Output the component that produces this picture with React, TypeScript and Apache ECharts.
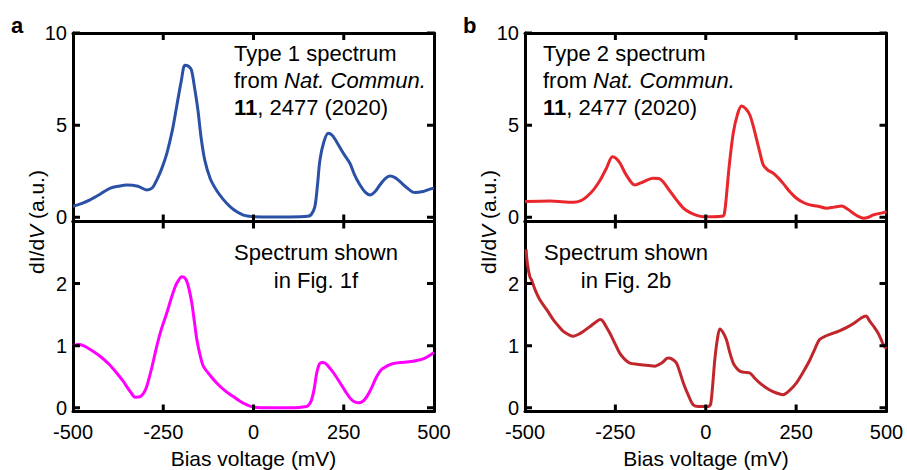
import React, { useEffect, useRef } from "react";
import * as echarts from "echarts";

// Panel a, top: Type 1 spectrum (Nat. Commun. 11, 2477)
const type1X = [-500, -475, -453, -425, -398, -370, -351, -320, -296, -280, -268, -255, -240, -225, -213, -200, -190, -180, -172, -163, -154, -145, -135, -120, -103, -85, -65, -45, -28, -10, 0, 50, 100, 150, 160, 170, 177, 184, 195, 207, 218, 230, 248, 267, 280, 295, 310, 323, 337, 350, 365, 378, 392, 406, 425, 447, 470, 485, 500];
const type1Y = [0.6, 0.75, 0.94, 1.25, 1.57, 1.7, 1.75, 1.68, 1.48, 1.6, 2.02, 2.6, 3.47, 4.7, 6.0, 7.4, 8.25, 8.2, 8.0, 7.0, 5.82, 4.3, 3.1, 2.1, 1.48, 1.0, 0.58, 0.28, 0.12, 0.05, 0.03, 0.02, 0.02, 0.05, 0.15, 0.58, 1.7, 3.1, 4.1, 4.56, 4.45, 4.1, 3.5, 2.93, 2.3, 1.75, 1.35, 1.21, 1.4, 1.75, 2.1, 2.24, 2.15, 1.93, 1.6, 1.34, 1.4, 1.5, 1.58];

// Panel a, bottom: spectrum shown in Fig. 1f
const fig1fX = [-500, -485, -471, -450, -425, -400, -379, -360, -351, -340, -328, -314, -305, -296, -282, -268, -255, -240, -228, -217, -207, -199, -192, -185, -178, -171, -164, -157, -148, -139, -120, -102, -80, -56, -30, 0, 50, 100, 147, 155, 161, 168, 175, 182, 189, 198, 207, 222, 240, 255, 267, 278, 290, 302, 314, 327, 341, 355, 369, 385, 406, 430, 452, 475, 500];
const fig1fY = [1.0, 1.02, 1.0, 0.93, 0.83, 0.7, 0.56, 0.42, 0.34, 0.25, 0.17, 0.18, 0.23, 0.34, 0.64, 0.99, 1.27, 1.53, 1.76, 1.95, 2.06, 2.11, 2.1, 2.04, 1.9, 1.69, 1.4, 1.1, 0.85, 0.67, 0.52, 0.4, 0.28, 0.18, 0.08, 0.01, 0.0, 0.0, 0.02, 0.06, 0.13, 0.3, 0.56, 0.7, 0.73, 0.72, 0.67, 0.56, 0.4, 0.26, 0.16, 0.1, 0.08, 0.1, 0.18, 0.32, 0.5, 0.62, 0.67, 0.71, 0.73, 0.74, 0.76, 0.8, 0.89];

// Panel b, top: Type 2 spectrum
const type2X = [-500, -431, -366, -345, -329, -310, -292, -275, -258, -248, -237, -220, -196, -175, -146, -130, -118, -100, -81, -62, -43, -25, -7, 20, 48, 53, 57, 65, 76, 88, 99, 110, 122, 132, 141, 150, 159, 172, 187, 200, 214, 232, 251, 270, 288, 310, 334, 355, 376, 392, 408, 422, 436, 450, 463, 491, 500];
const type2Y = [0.85, 0.88, 0.81, 0.9, 1.12, 1.5, 2.02, 2.65, 3.29, 3.2, 2.93, 2.3, 1.75, 1.9, 2.12, 2.1, 1.93, 1.45, 0.94, 0.5, 0.25, 0.1, 0.03, 0.03, 0.07, 0.4, 1.12, 2.8, 4.56, 5.6, 6.04, 5.9, 5.55, 4.9, 4.2, 3.5, 2.84, 2.55, 2.39, 2.15, 1.84, 1.4, 1.03, 0.8, 0.67, 0.6, 0.49, 0.55, 0.61, 0.45, 0.22, 0.05, -0.05, 0.0, 0.12, 0.25, 0.28];

// Panel b, bottom: spectrum shown in Fig. 2b
const fig2bX = [-497, -495, -491, -486, -482, -472, -459, -440, -422, -408, -394, -380, -367, -353, -339, -320, -302, -292, -284, -275, -265, -250, -238, -224, -210, -190, -173, -157, -141, -122, -104, -92, -81, -72, -62, -48, -35, -20, 2, 10, 14, 19, 25, 32, 39, 47, 57, 66, 76, 85, 94, 108, 122, 135, 149, 168, 186, 200, 214, 232, 251, 270, 288, 302, 315, 333, 352, 370, 389, 410, 431, 443, 454, 466, 477, 485, 491, 500];
const fig2bY = [2.55, 2.4, 2.23, 2.1, 2.06, 1.9, 1.74, 1.58, 1.42, 1.32, 1.23, 1.18, 1.15, 1.18, 1.23, 1.31, 1.39, 1.42, 1.39, 1.3, 1.2, 1.02, 0.88, 0.78, 0.72, 0.7, 0.69, 0.68, 0.67, 0.72, 0.8, 0.78, 0.72, 0.58, 0.4, 0.2, 0.05, 0.02, 0.02, 0.03, 0.07, 0.35, 0.77, 1.1, 1.27, 1.22, 1.1, 0.9, 0.72, 0.64, 0.59, 0.57, 0.56, 0.48, 0.4, 0.32, 0.26, 0.23, 0.21, 0.28, 0.4, 0.58, 0.77, 0.95, 1.1, 1.16, 1.2, 1.24, 1.29, 1.36, 1.45, 1.48, 1.39, 1.3, 1.2, 1.1, 1.02, 0.95];

const xTickValues = [-250, 0, 250];
const xInterval = 250; // x labels: -500, -250, 0, 250, 500
const yTopValues = [0, 5, 10];
const yBottomValues = [0, 1, 2];

const FONT = "'Liberation Sans', Arial, Helvetica, sans-serif";

const zip = (xs: number[], ys: number[]) => xs.map((x, i) => [x, ys[i]]);

export default function App() {
  const ref = useRef<HTMLDivElement>(null);
  useEffect(() => {
    if (!ref.current) return;
    const chart = echarts.init(ref.current, null, { renderer: "svg" });

    const gridRects = [
      { left: 73, top: 33, width: 361, height: 188.5 },
      { left: 73, top: 221.5, width: 361, height: 190 },
      { left: 525, top: 33, width: 361.5, height: 188.5 },
      { left: 525, top: 221.5, width: 361.5, height: 190 },
    ];
    const grids = gridRects.map((g) => ({ ...g, show: false }));
    const yRange = (g: number) => (g % 2 === 1 ? [-0.06, 3] : [-0.23, 10]);

    const mkLine = () => ({ show: true, onZero: false, lineStyle: { color: "#000", width: 3 } });
    const xAxes: any[] = [];
    const yAxes: any[] = [];
    for (let g = 0; g < 4; g++) {
      const bottom = g % 2 === 1;
      xAxes.push({
        type: "value", gridIndex: g, min: -500, max: 500, interval: xInterval, position: "bottom",
        axisLine: mkLine(), splitLine: { show: false }, axisTick: { show: false },
        axisLabel: bottom
          ? { show: true, fontSize: 20, color: "#000", fontFamily: FONT, margin: 10 }
          : { show: false },
      });
      xAxes.push({
        type: "value", gridIndex: g, min: -500, max: 500, interval: xInterval, position: "top",
        axisLine: mkLine(), splitLine: { show: false }, axisTick: { show: false }, axisLabel: { show: false },
      });
      const [yMin, yMax] = yRange(g);
      const yVals = bottom ? yBottomValues : yTopValues;
      const step = yVals[1] - yVals[0];
      yAxes.push({
        type: "value", gridIndex: g, min: yMin, max: yMax, position: "left",
        splitNumber: bottom ? 3 : 2, minInterval: step, maxInterval: step,
        axisLine: mkLine(), splitLine: { show: false }, axisTick: { show: false },
        axisLabel: {
          show: true, fontSize: 20, color: "#000", fontFamily: FONT, margin: 6,
          formatter: (v: number) => (yVals.indexOf(Math.round(v * 1000) / 1000) >= 0 ? String(Math.round(v)) : ""),
        },
      });
      yAxes.push({
        type: "value", gridIndex: g, min: yMin, max: yMax, position: "right",
        splitNumber: bottom ? 3 : 2, minInterval: step, maxInterval: step,
        axisLine: mkLine(), splitLine: { show: false }, axisTick: { show: false }, axisLabel: { show: false },
      });
    }

    const mk = (data: number[][], g: number, color: string) => ({
      type: "line", data, xAxisIndex: g * 2, yAxisIndex: g * 2, showSymbol: false, smooth: 0.3,
      lineStyle: { color, width: 3 },
    });

    // Inward tick marks on all four sides, drawn as short segments in data space
    // (tick length 7 px converted through each grid's scale).
    const TL = 7;
    const tickSeries = (g: number) => {
      const [yMin, yMax] = yRange(g);
      const r = gridRects[g];
      const dx = (TL * 1000) / r.width;
      const dy = (TL * (yMax - yMin)) / r.height;
      const yVals = g % 2 === 1 ? yBottomValues : yTopValues;
      const data: any[] = [];
      xTickValues.forEach((v) => {
        data.push([v, yMax], [v, yMax - dy], [v, "-"]);
        data.push([v, yMin], [v, yMin + dy], [v, "-"]);
      });
      yVals.forEach((v) => {
        data.push([-500, v], [-500 + dx, v], ["-", v]);
        data.push([500, v], [500 - dx, v], ["-", v]);
      });
      return {
        type: "line", data, xAxisIndex: g * 2, yAxisIndex: g * 2, showSymbol: false, smooth: false,
        connectNulls: false, clip: false, z: 3,
        lineStyle: { color: "#000", width: 3, cap: "butt" },
      };
    };

    const FS = 22;
    const txt = (text: string, x: number, y: number, extra: any = {}) => ({
      type: "text", x, y,
      style: {
        text, fontSize: FS, fontFamily: FONT, fill: "#000", verticalAlign: "middle", align: "left",
        rich: {
          i: { fontStyle: "italic", fontSize: FS, fontFamily: FONT },
          b: { fontWeight: "bold", fontSize: FS, fontFamily: FONT },
        },
        ...extra,
      },
    });

    const yName = (x: number) => ({
      type: "text", x, y: 222, rotation: Math.PI / 2,
      style: {
        text: "dI/d{i|V} (a.u.)", fontSize: 21, fontFamily: FONT, fill: "#000", align: "center", verticalAlign: "middle",
        rich: { i: { fontStyle: "italic", fontSize: 21, fontFamily: FONT } },
      },
    });

    chart.setOption({
      animation: false,
      grid: grids,
      xAxis: xAxes,
      yAxis: yAxes,
      series: [
        mk(zip(type1X, type1Y), 0, "#2a51a6"),
        mk(zip(fig1fX, fig1fY), 1, "#ff00ff"),
        mk(zip(type2X, type2Y), 2, "#e8262b"),
        mk(zip(fig2bX, fig2bY), 3, "#c0272d"),
        tickSeries(0),
        tickSeries(1),
        tickSeries(2),
        tickSeries(3),
      ],
      graphic: [
        txt("a", 11, 25, { fontWeight: "bold", fontSize: 22 }),
        txt("b", 463, 25, { fontWeight: "bold", fontSize: 22 }),
        txt("Type 1 spectrum", 234, 53),
        txt("from {i|Nat. Commun.}", 234, 80),
        txt("{b|11}, 2477 (2020)", 234, 107),
        txt("Type 2 spectrum", 543, 53),
        txt("from {i|Nat. Commun.}", 543, 80),
        txt("{b|11}, 2477 (2020)", 543, 107),
        txt("Spectrum shown", 316, 252, { align: "center" }),
        txt("in Fig. 1f", 316, 280, { align: "center" }),
        txt("Spectrum shown", 626, 252, { align: "center" }),
        txt("in Fig. 2b", 626, 280, { align: "center" }),
        yName(36),
        yName(488),
        txt("Bias voltage (mV)", 253.5, 458, { align: "center", fontSize: 21 }),
        txt("Bias voltage (mV)", 706, 458, { align: "center", fontSize: 21 }),
      ],
    });
    return () => chart.dispose();
  }, []);
  return (
    <div
      ref={ref}
      style={{ position: "absolute", left: 0, top: 0, width: 907, height: 470, background: "#fff" }}
    />
  );
}
